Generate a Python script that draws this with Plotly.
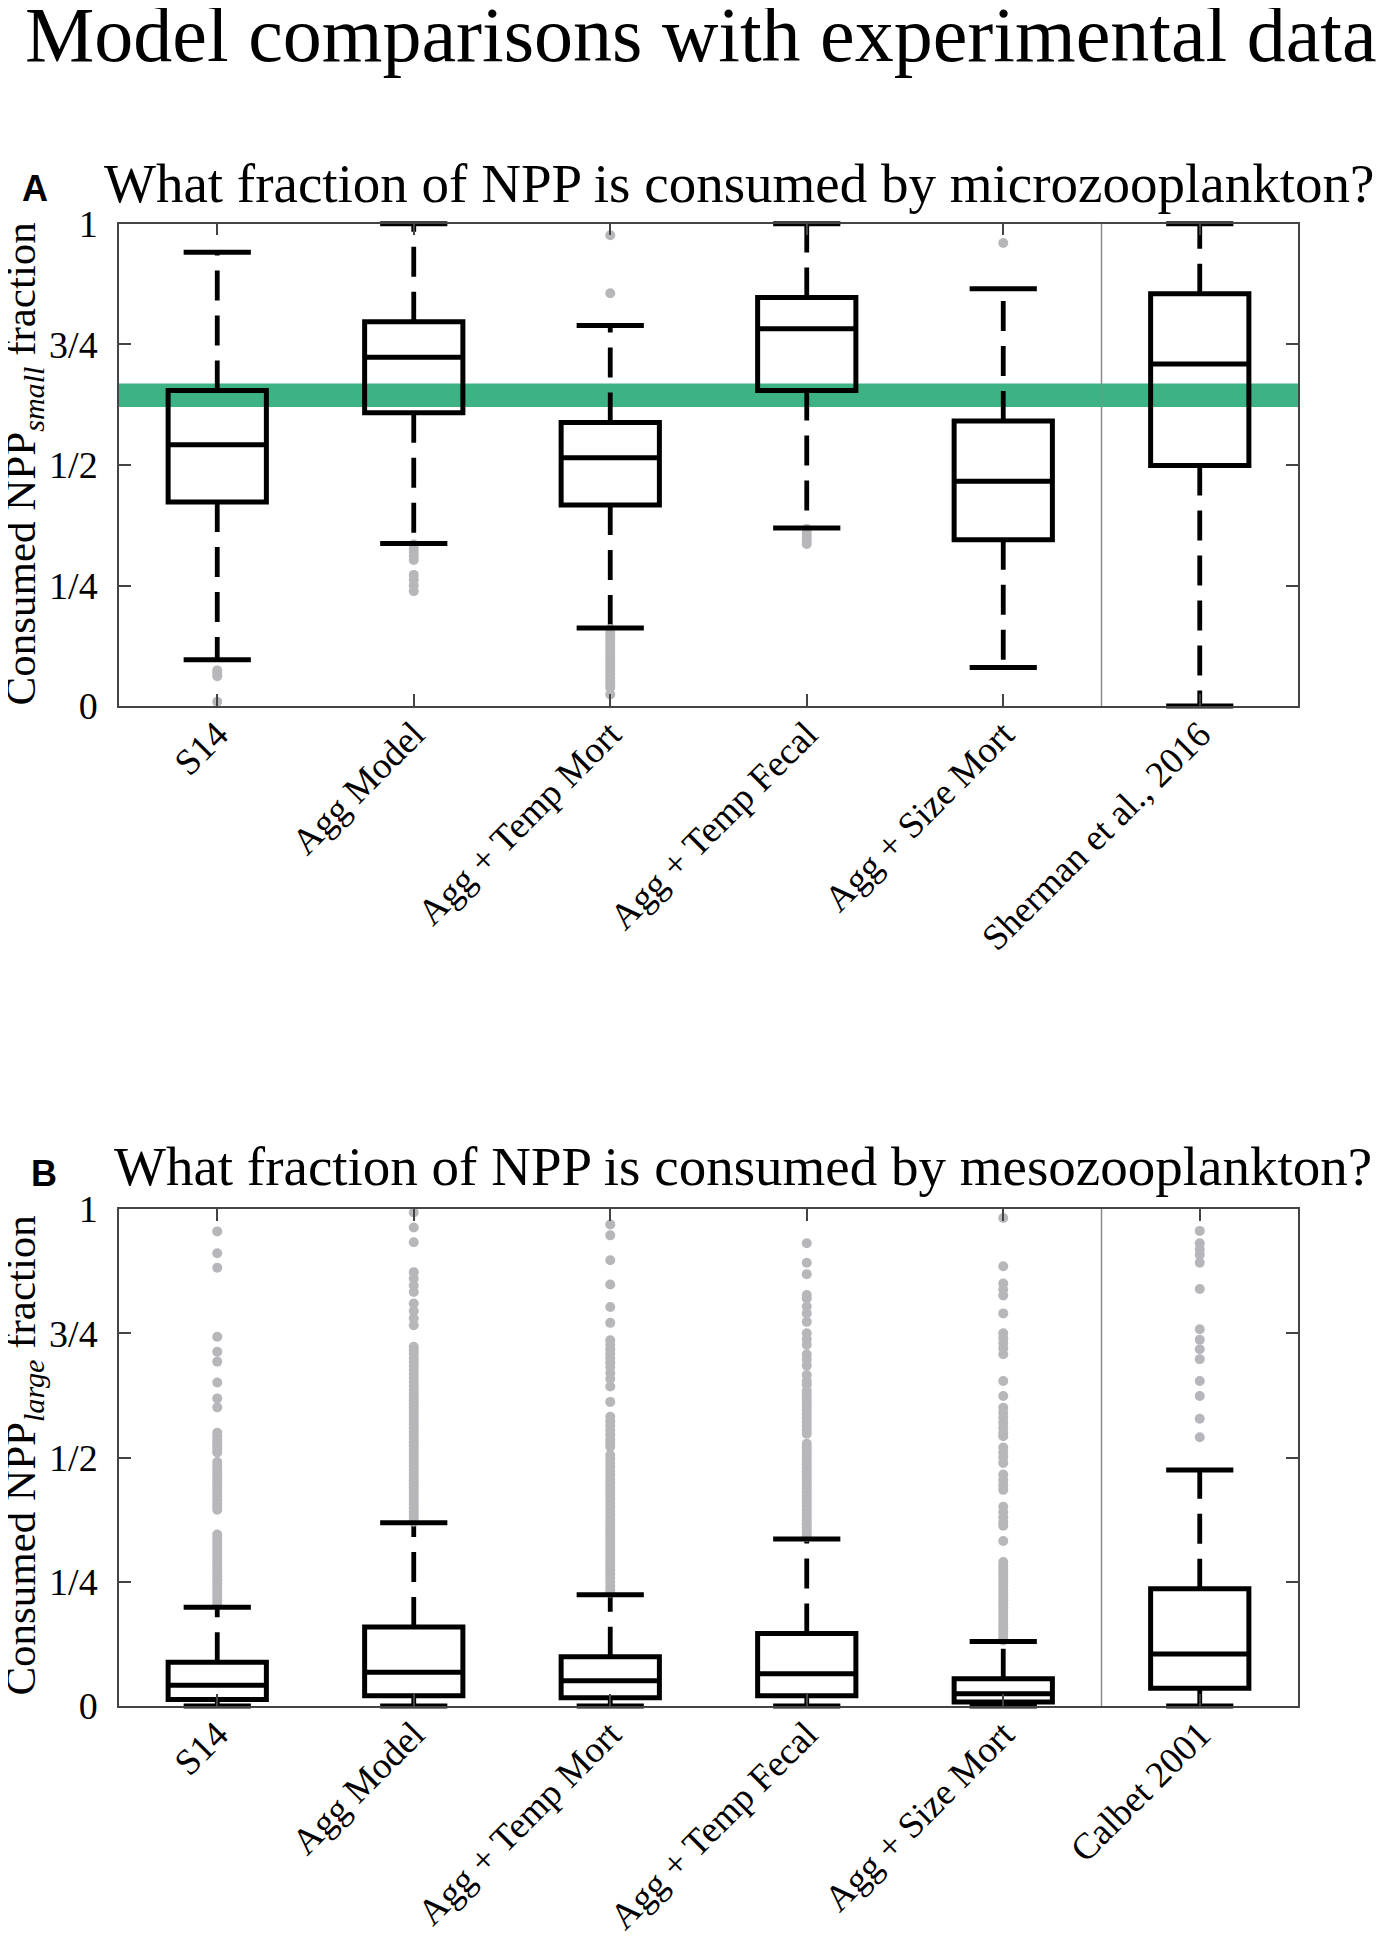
import plotly.graph_objects as go

W, H = 1391, 1950

# --- data ---
cats_a = ["S14", "Agg Model", "Agg + Temp Mort", "Agg + Temp Fecal",
          "Agg + Size Mort", "Sherman et al., 2016"]
cats_b = ["S14", "Agg Model", "Agg + Temp Mort", "Agg + Temp Fecal",
          "Agg + Size Mort", "Calbet 2001"]

# panel A: microzooplankton
a_q1 = [0.423, 0.608, 0.417, 0.654, 0.345, 0.499]
a_med = [0.542, 0.723, 0.515, 0.782, 0.466, 0.709]
a_q3 = [0.654, 0.797, 0.588, 0.847, 0.591, 0.855]
a_lo = [0.096, 0.337, 0.162, 0.369, 0.080, 0.0]
a_hi = [0.941, 1.0, 0.789, 1.0, 0.865, 1.0]
a_out = [
    [0.074, 0.068, 0.062, 0.009],
    [0.335, 0.327, 0.319, 0.311, 0.303, 0.272, 0.262, 0.250, 0.238],
    [0.976, 0.856, 0.160, 0.153, 0.146, 0.139, 0.131, 0.124, 0.117, 0.110,
     0.102, 0.095, 0.088, 0.081, 0.074, 0.066, 0.059, 0.052, 0.045, 0.038,
     0.024],
    [0.367, 0.359, 0.351, 0.343, 0.336],
    [0.960],
    [],
]
band_a = [0.620, 0.669]   # Sherman et al. reference band

# panel B: mesozooplankton
b_q1 = [0.013, 0.021, 0.017, 0.021, 0.008, 0.036]
b_med = [0.042, 0.068, 0.051, 0.065, 0.025, 0.105]
b_q3 = [0.088, 0.159, 0.099, 0.146, 0.055, 0.236]
b_lo = [0.0, 0.0, 0.0, 0.0, 0.0, 0.0]
b_hi = [0.199, 0.369, 0.224, 0.336, 0.130, 0.475]
b_out = [
    [0.955, 0.911, 0.882, 0.743, 0.713, 0.693, 0.651, 0.619, 0.601,
     0.550, 0.543, 0.536, 0.529, 0.522, 0.516, 0.510,
     0.491, 0.484, 0.477, 0.470, 0.463, 0.456, 0.449, 0.442, 0.435, 0.428,
     0.421, 0.414, 0.407, 0.401, 0.395,
     0.345, 0.338, 0.331, 0.324, 0.317, 0.310, 0.303, 0.296, 0.289, 0.282,
     0.275, 0.268, 0.261, 0.254, 0.247, 0.240, 0.233, 0.226, 0.219, 0.212,
     0.205],
    [0.993, 0.963, 0.933, 0.873, 0.860, 0.846, 0.833, 0.810, 0.795, 0.780,
     0.766, 0.723, 0.716, 0.709, 0.700, 0.692, 0.684, 0.676, 0.668, 0.660,
     0.652, 0.644, 0.636, 0.629,
     0.622, 0.615, 0.608, 0.601, 0.594, 0.587, 0.580, 0.573, 0.566, 0.559,
     0.552, 0.545, 0.538, 0.531, 0.524, 0.517, 0.510, 0.503, 0.496, 0.489,
     0.482, 0.475, 0.468, 0.461, 0.454, 0.447, 0.440, 0.433, 0.426, 0.419,
     0.412, 0.405, 0.398, 0.391, 0.384, 0.377, 0.371],
    [0.969, 0.947, 0.897, 0.848, 0.803, 0.771,
     0.736, 0.727, 0.718, 0.709, 0.700, 0.691, 0.682, 0.670, 0.658, 0.643,
     0.612, 0.582, 0.573, 0.564, 0.555, 0.546, 0.537, 0.529, 0.522,
     0.505, 0.497, 0.489, 0.481, 0.473, 0.465, 0.457, 0.449, 0.441, 0.433,
     0.425, 0.417, 0.409, 0.401, 0.393, 0.385, 0.377, 0.369, 0.361, 0.353,
     0.345, 0.337, 0.329, 0.321, 0.313, 0.305, 0.297, 0.289, 0.281, 0.273,
     0.265, 0.257, 0.249, 0.241, 0.233, 0.228],
    [0.931, 0.892, 0.869, 0.827, 0.820, 0.804, 0.790, 0.773, 0.750, 0.738,
     0.727, 0.708, 0.697, 0.685, 0.666, 0.654, 0.647,
     0.635, 0.627, 0.619, 0.611, 0.603, 0.595, 0.587, 0.579, 0.571, 0.563,
     0.555, 0.548,
     0.528, 0.521, 0.514, 0.507, 0.500, 0.493, 0.486, 0.479, 0.472, 0.465,
     0.458, 0.451, 0.444, 0.437, 0.430, 0.423, 0.416, 0.409, 0.402, 0.395,
     0.388, 0.381, 0.374, 0.367, 0.360, 0.353, 0.346, 0.340],
    [0.982, 0.885, 0.850, 0.838, 0.826, 0.790, 0.750, 0.740, 0.730, 0.720,
     0.708, 0.654, 0.624, 0.600, 0.590, 0.580, 0.570, 0.560, 0.550, 0.543,
     0.520, 0.510, 0.500, 0.489, 0.466, 0.455, 0.445, 0.435, 0.401, 0.390,
     0.380, 0.370, 0.363, 0.332,
     0.290, 0.283, 0.276, 0.269, 0.262, 0.255, 0.248, 0.241, 0.234, 0.227,
     0.220, 0.213, 0.206, 0.199, 0.192, 0.185, 0.178, 0.171, 0.164, 0.157,
     0.150, 0.143, 0.136, 0.132],
    [0.956, 0.931, 0.919, 0.908, 0.892, 0.839, 0.758, 0.737, 0.718, 0.698,
     0.654, 0.624, 0.578, 0.541],
]

yticks = [0, 0.25, 0.5, 0.75, 1]
ytick_text = ["0", "1/4", "1/2", "3/4", "1"]

SERIF = "Liberation Serif"
SANS = "Liberation Sans, Arial, sans-serif"
GREEN = "#3db385"
GREY = "#b7b7bb"
AXC = "#444444"


def py(pix):
    # pixel row -> paper y
    return 1 - pix / H


def add_panel(fig, xa, ya, q1, med, q3, lo, hi, outs):
    n = len(q1)
    pos = list(range(n))
    # box body
    fig.add_trace(go.Box(
        x=pos, q1=q1, median=med, q3=q3, lowerfence=q1, upperfence=q3,
        width=0.5, whiskerwidth=0, boxpoints=False,
        line=dict(color="black", width=5), fillcolor="rgba(0,0,0,0)",
        xaxis=xa, yaxis=ya, showlegend=False, hoverinfo="skip"))
    # dashed whiskers
    wx, wy = [], []
    for i in pos:
        wx += [i, i, None, i, i, None]
        wy += [q3[i], hi[i], None, q1[i], lo[i], None]
    fig.add_trace(go.Scatter(
        x=wx, y=wy, mode="lines",
        line=dict(color="black", width=4.8, dash="30px,15px"),
        xaxis=xa, yaxis=ya, showlegend=False, hoverinfo="skip"))
    # outliers
    ox, oy = [], []
    for i in pos:
        ox += [i] * len(outs[i])
        oy += outs[i]
    fig.add_trace(go.Scatter(
        x=ox, y=oy, mode="markers", cliponaxis=False,
        marker=dict(color=GREY, size=10, line=dict(width=0)),
        xaxis=xa, yaxis=ya, showlegend=False, hoverinfo="skip"))
    # whisker caps
    fig.add_trace(go.Scatter(
        x=pos + pos, y=hi + lo, mode="markers", cliponaxis=False,
        marker=dict(symbol="line-ew", size=48,
                    line=dict(color="black", width=5)),
        xaxis=xa, yaxis=ya, showlegend=False, hoverinfo="skip"))


fig = go.Figure()
add_panel(fig, "x", "y", a_q1, a_med, a_q3, a_lo, a_hi, a_out)
add_panel(fig, "x2", "y2", b_q1, b_med, b_q3, b_lo, b_hi, b_out)

xdom = [111 / W, 1290 / W]
axis_common = dict(showline=True, mirror="ticks", linecolor=AXC, linewidth=1.5,
                   ticks="inside", ticklen=12, tickwidth=1.5, tickcolor=AXC,
                   showgrid=False, zeroline=False)

fig.update_layout(
    width=W, height=H,
    margin=dict(l=0, r=0, t=0, b=0),
    paper_bgcolor="white", plot_bgcolor="white",
    font=dict(family=SERIF, color="black"),
    xaxis=dict(domain=xdom, range=[-0.5, 5.5], tickvals=list(range(6)),
               ticktext=cats_a, tickangle=-45, tickfont=dict(size=37),
               ticklabelstandoff=-10, anchor="y", **axis_common),
    yaxis=dict(domain=[py(692), py(199)], range=[0, 1], tickvals=yticks,
               ticktext=ytick_text, tickfont=dict(size=38),
               ticklabelstandoff=12, anchor="x", **axis_common),
    xaxis2=dict(domain=xdom, range=[-0.5, 5.5], tickvals=list(range(6)),
                ticktext=cats_b, tickangle=-45, tickfont=dict(size=37),
                ticklabelstandoff=-10, anchor="y2", **axis_common),
    yaxis2=dict(domain=[py(1714), py(1206)], range=[0, 1], tickvals=yticks,
                ticktext=ytick_text, tickfont=dict(size=38),
                ticklabelstandoff=12, anchor="x2", **axis_common),
)

# reference band and model/data separators
fig.add_shape(type="rect", xref="x domain", yref="y", x0=0, x1=1,
              y0=band_a[0], y1=band_a[1], fillcolor=GREEN, line_width=0,
              layer="below")
fig.add_shape(type="line", xref="x", yref="y domain", x0=4.5, x1=4.5,
              y0=0, y1=1, line=dict(color="#8a8a8a", width=1.5))
fig.add_shape(type="line", xref="x2", yref="y2 domain", x0=4.5, x1=4.5,
              y0=0, y1=1, line=dict(color="#8a8a8a", width=1.5))

# titles and labels
fig.add_annotation(text="Model comparisons with experimental data",
                   x=693 / W, y=py(6), xref="paper", yref="paper",
                   xanchor="center", yanchor="middle", showarrow=False,
                   font=dict(size=78))
fig.add_annotation(text="What fraction of NPP is consumed by microzooplankton?",
                   x=94 / W, y=py(158), xref="paper", yref="paper",
                   xanchor="left", yanchor="middle", showarrow=False,
                   font=dict(size=55))
fig.add_annotation(text="What fraction of NPP is consumed by mesozooplankton?",
                   x=104 / W, y=py(1163), xref="paper", yref="paper",
                   xanchor="left", yanchor="middle", showarrow=False,
                   font=dict(size=55))
fig.add_annotation(text="<b>A</b>", x=12 / W, y=py(163), xref="paper",
                   yref="paper", xanchor="left", yanchor="middle",
                   showarrow=False, font=dict(size=36, family=SANS))
fig.add_annotation(text="<b>B</b>", x=21 / W, y=py(1170), xref="paper",
                   yref="paper", xanchor="left", yanchor="middle",
                   showarrow=False, font=dict(size=36, family=SANS))
fig.add_annotation(text="Consumed NPP<sub><i>small</i></sub> fraction",
                   x=16 / W, y=py(445), xref="paper", yref="paper",
                   xanchor="center", yanchor="middle", textangle=-90,
                   showarrow=False, font=dict(size=43))
fig.add_annotation(text="Consumed NPP<sub><i>large</i></sub> fraction",
                   x=16 / W, y=py(1458), xref="paper", yref="paper",
                   xanchor="center", yanchor="middle", textangle=-90,
                   showarrow=False, font=dict(size=43))

fig.write_html("out.html")
